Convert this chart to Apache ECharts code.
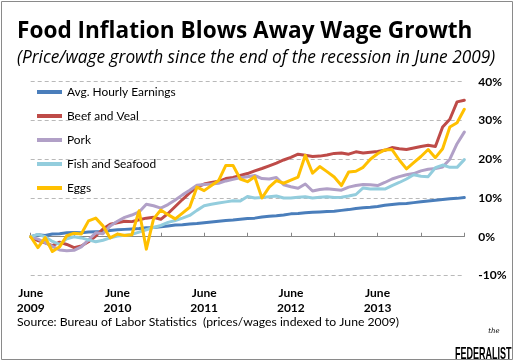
<!DOCTYPE html>
<html>
<head>
<meta charset="utf-8">
<script src="https://cdn.jsdelivr.net/npm/echarts@6/dist/echarts.min.js"></script>
<style>
html,body{margin:0;padding:0;background:#fff;}
#c{width:516px;height:363px;}
</style>
</head>
<body>
<div id="c"></div>
<script>
const categories = [
 '2009-06','2009-07','2009-08','2009-09','2009-10','2009-11','2009-12',
 '2010-01','2010-02','2010-03','2010-04','2010-05','2010-06','2010-07','2010-08','2010-09','2010-10','2010-11','2010-12',
 '2011-01','2011-02','2011-03','2011-04','2011-05','2011-06','2011-07','2011-08','2011-09','2011-10','2011-11','2011-12',
 '2012-01','2012-02','2012-03','2012-04','2012-05','2012-06','2012-07','2012-08','2012-09','2012-10','2012-11','2012-12',
 '2013-01','2013-02','2013-03','2013-04','2013-05','2013-06','2013-07','2013-08','2013-09','2013-10','2013-11','2013-12',
 '2014-01','2014-02','2014-03','2014-04','2014-05','2014-06'
];
const xTickLabels = {
 '2009-06':'June\n2009','2010-06':'June\n2010','2011-06':'June\n2011','2012-06':'June\n2012','2013-06':'June\n2013'
};
const yTicks = [-10, 0, 10, 20, 30, 40];

const avgHourlyEarnings = [
 0,0.5,0.3,0.7,0.8,1.0,1.1,1.0,1.2,1.3,
 1.3,1.6,1.8,1.9,2.0,2.1,2.3,2.4,2.6,2.8,
 3.0,3.1,3.3,3.4,3.6,3.8,4.0,4.2,4.3,4.5,
 4.7,4.8,5.1,5.3,5.4,5.6,5.9,6.0,6.2,6.3,
 6.4,6.5,6.6,6.8,7.0,7.3,7.5,7.6,7.8,8.1,
 8.3,8.5,8.6,8.8,9.0,9.2,9.4,9.6,9.8,9.9,
 10.1
];
const beefAndVeal = [
 0,-1.0,-1.6,-2.3,-1.4,-2.0,-2.8,-2.4,-1.3,0.2,
 2.0,3.2,3.6,4.0,3.9,4.4,4.8,5.0,4.5,6.0,
 7.8,9.6,11.3,12.8,13.6,14.0,14.3,15.0,15.3,15.8,
 16.3,17.0,17.6,18.3,19.0,19.8,20.5,21.3,21.0,20.7,
 20.8,21.1,21.5,21.6,21.3,21.9,21.6,21.8,22.0,22.3,
 23.0,22.7,22.5,22.9,23.3,23.6,23.3,28.3,30.3,34.8,
 35.2
];
const pork = [
 0,-0.6,-1.5,-2.5,-3.4,-3.6,-3.5,-2.6,-0.8,1.0,
 0.8,2.8,4.0,5.0,5.6,6.4,8.4,8.0,7.4,8.3,
 9.5,10.8,12.0,13.3,13.5,13.6,13.8,14.4,14.8,15.2,
 15.5,15.8,15.0,14.9,15.3,13.4,12.9,12.5,13.6,11.8,
 12.2,12.4,12.2,12.0,12.8,13.2,13.5,13.4,13.2,14.0,
 14.9,15.5,16.0,16.3,17.0,17.4,17.6,18.0,20.0,24.0,
 27.0
];
const fishAndSeafood = [
 0,0.6,0.0,-1.2,-2.0,-0.5,0.0,-0.3,-0.8,-1.3,
 -0.9,-0.3,0.2,0.4,0.6,1.2,1.8,2.4,2.9,3.7,
 4.2,4.8,5.5,6.8,8.0,8.4,8.7,9.0,9.3,9.2,
 10.4,10.0,10.1,10.3,10.5,10.0,10.0,10.2,10.3,10.0,
 10.2,10.3,10.1,10.2,10.5,10.9,12.6,12.3,12.4,12.3,
 13.2,14.0,14.9,16.0,15.6,15.5,17.8,18.5,17.9,17.9,
 19.9
];
const eggs = [
 0,-2.8,-0.2,-3.8,-2.6,0.3,0.9,0.7,4.1,4.8,
 2.8,-0.3,0.7,0.3,0.5,6.7,-3.2,4.6,6.9,5.7,
 4.6,6.1,7.6,12.8,11.9,13.2,14.5,18.4,18.4,14.9,
 14.2,15.5,10.0,12.8,14.5,13.8,14.6,15.4,21.0,16.4,
 18.1,16.8,15.4,13.2,16.7,16.9,17.9,20.0,21.4,22.4,
 22.5,19.8,17.5,19.1,20.7,22.5,20.4,22.7,28.3,29.4,
 32.9
];

const seriesNames = ['Avg. Hourly Earnings','Beef and Veal','Pork','Fish and Seafood','Eggs'];
const seriesData = [avgHourlyEarnings, beefAndVeal, pork, fishAndSeafood, eggs];
const seriesColors = ['#4a7ebb','#be4b48','#b1a0c7','#93cddd','#ffc000'];

const titleText = 'Food Inflation Blows Away Wage Growth';
const subtitleText = '(Price/wage growth since the end of the recession in June 2009)';
const sourceText = 'Source: Bureau of Labor Statistics  (prices/wages indexed to June 2009)';

// fit a font size so a text spans a target width
const _ctx = document.createElement('canvas').getContext('2d');
function fitSize(text, style, family, target) {
  _ctx.font = style + ' 100px ' + family;
  const w = _ctx.measureText(text).width;
  return Math.round(100 * target / w * 10) / 10;
}
const TITLE_FONT = '"Open Sans"';
const BODY_FONT = 'Lato';
const titleSize = fitSize(titleText, 'bold', TITLE_FONT, 455);
const subSize = fitSize(subtitleText, 'italic', TITLE_FONT, 480);
const srcSize = fitSize(sourceText, 'normal', BODY_FONT, 383);
const legSize = fitSize('Avg. Hourly Earnings', 'normal', BODY_FONT, 109);

const chart = echarts.init(document.getElementById('c'), null, {renderer:'canvas'});

chart.setOption({
  animation: false,
  backgroundColor: '#fff',
  legend: {
    orient: 'vertical', left: 37, top: 85, padding: 0,
    itemWidth: 25, itemHeight: 4, itemGap: 10,
    icon: 'rect',
    data: seriesNames,
    textStyle: {fontFamily: BODY_FONT, fontSize: legSize, color: '#000', lineHeight: 14}
  },
  grid: {left: 30.7, right: 51.7, top: 81.7, bottom: 87.5, containLabel: false},
  xAxis: [
    {type: 'category', data: categories, boundaryGap: false,
     axisLine: {onZero: true, lineStyle: {color: '#868686', width: 1}},
     axisTick: {show: true, inside: true, length: 4, interval: 5, lineStyle: {color: '#868686'}},
     axisLabel: {show: false}, splitLine: {show: false}},
    {type: 'category', data: categories, boundaryGap: false, position: 'bottom',
     axisLine: {show: false, onZero: false}, axisTick: {show: false},
     axisLabel: {show: true, interval: 0, margin: 10, lineHeight: 15,
       fontFamily: BODY_FONT, fontWeight: 'bold', fontSize: 12, color: '#000',
       formatter: v => xTickLabels[v] || ''},
     splitLine: {show: false}}
  ],
  yAxis: {
    type: 'value', position: 'right', min: yTicks[0], max: yTicks[yTicks.length-1], interval: 10,
    axisLine: {show: false}, axisTick: {show: false},
    axisLabel: {margin: 14, fontFamily: BODY_FONT, fontWeight: 'bold', fontSize: 12, color: '#000',
      formatter: '{value}%'},
    splitLine: {show: true, lineStyle: {color: '#b9b9b9', type: [4,3], width: 1}}
  },
  series: seriesNames.map((n, i) => ({
    name: n, type: 'line', data: seriesData[i], xAxisIndex: 0,
    showSymbol: false, symbol: 'none',
    color: seriesColors[i],
    lineStyle: {width: 3, color: seriesColors[i], cap: 'round', join: 'round'},
    z: 2 + i
  })),
  graphic: [
    {type: 'rect', shape: {x: 1.5, y: 1.5, width: 511, height: 358},
     style: {fill: 'none', stroke: '#8a8a8a', lineWidth: 1}, silent: true},
    {type: 'text', x: 17, y: 32,
     style: {text: titleText, font: 'bold ' + titleSize + 'px ' + TITLE_FONT, fill: '#000', textVerticalAlign: 'middle'}},
    {type: 'text', x: 17, y: 58,
     style: {text: subtitleText, font: 'italic ' + subSize + 'px ' + TITLE_FONT, fill: '#000', textVerticalAlign: 'middle'}},
    {type: 'text', x: 17, y: 322,
     style: {text: sourceText, font: srcSize + 'px ' + BODY_FONT, fill: '#000', textVerticalAlign: 'middle'}},
    {type: 'text', x: 494, y: 331,
     style: {text: 'the', font: 'italic 7px "DejaVu Serif"', fill: '#000', textAlign: 'center', textVerticalAlign: 'middle'}},
    {type: 'group', x: 455, y: 346, scaleX: 0.53, children: [
      {type: 'text', x: 0, y: 0,
       style: {text: 'FEDERALIST', font: 'bold 17px "Liberation Sans"', fill: '#000', textAlign: 'left', textVerticalAlign: 'top'}}
    ]}
  ]
});
</script>
</body>
</html>
